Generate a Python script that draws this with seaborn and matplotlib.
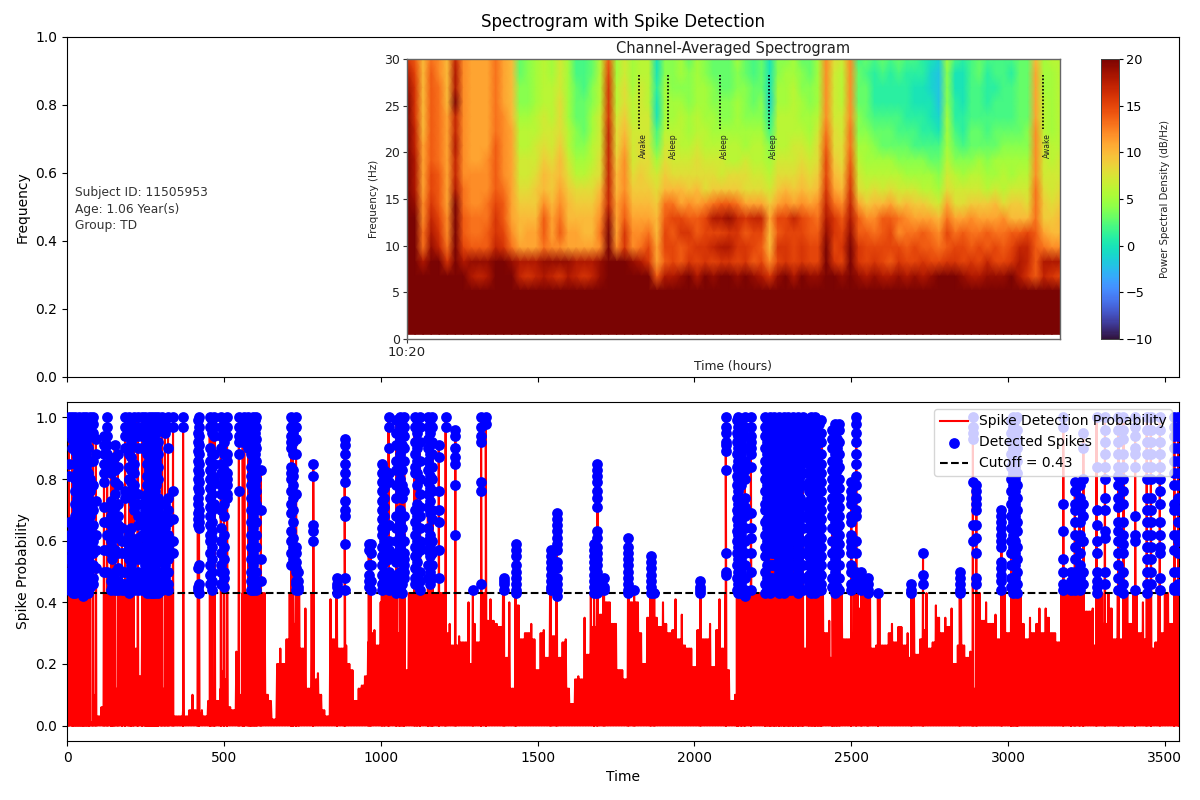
import matplotlib
matplotlib.use("Agg")
import matplotlib.pyplot as plt
import numpy as np
import pandas as pd
import seaborn as sns

# spectrogram, one list per time column, dB/Hz from 30 Hz downwards (rows below these are saturated)
SPEC_COLS = [
    [16,18,19,20,20,20,20,21,21,21,22,22,22,22,22,22],
    [14,15,16,16,16,17,17,18,18,18,19,20,20,21,22,22],
    [10,10,10,10,10,10,11,11,11,11,12,12,13,13,18,24],
    [13,14,14,14,14,14,14,14,15,15,16,17,18,19,20,23],
    [12,12,13,13,13,13,13,13,14,14,14,15,16,17,20,24],
    [10,10,10,10,11,11,11,11,11,11,11,12,12,13,16,24],
    [17,18,18,20,17,17,18,17,17,18,20,21,21,22,22,24],
    [12,12,12,12,12,12,12,12,12,13,13,14,14,15,18,22],
    [11,11,11,11,11,11,11,11,12,12,12,13,13,14,19,18],
    [11,11,11,11,11,11,11,11,12,12,12,13,13,14,19,17],
    [11,11,11,11,11,11,11,12,12,12,13,13,14,14,19,18],
    [13,13,13,13,13,13,14,14,14,14,15,16,16,17,20,23],
    [11,11,11,11,12,12,12,12,12,13,14,14,15,16,20,23],
    [10,10,10,10,10,11,11,11,11,11,11,11,12,13,19,20],
    [3,3,4,4,5,6,6,7,7,8,9,10,10,11,18,17],
    [4,4,4,4,5,6,6,7,7,8,9,10,11,11,18,16],
    [5,5,5,5,6,6,7,7,8,9,9,10,11,11,18,17],
    [6,6,6,6,7,7,8,9,10,10,12,14,14,13,19,18],
    [5,5,6,6,6,7,7,8,9,9,10,11,11,12,19,17],
    [7,7,7,8,8,8,9,10,10,11,12,13,14,12,19,16],
    [5,5,5,5,5,6,6,7,8,9,10,10,11,11,19,18],
    [2,2,3,3,3,4,4,5,6,8,9,10,11,11,18,17],
    [2,2,2,3,3,3,4,5,6,8,9,10,10,11,18,16],
    [3,3,4,4,5,5,6,6,7,8,9,10,10,11,18,17],
    [6,6,6,6,7,7,7,8,8,10,11,12,13,12,19,19],
    [14,15,16,16,16,17,17,17,17,17,17,19,20,20,21,22],
    [5,5,6,6,7,8,8,9,10,10,11,11,11,12,20,20],
    [7,7,8,8,9,10,11,12,12,12,13,14,16,16,20,20],
    [5,5,5,6,6,7,7,7,8,9,10,11,12,12,19,21],
    [6,6,7,7,7,7,8,8,9,9,10,11,12,13,18,22],
    [6,6,6,6,7,7,7,8,8,9,10,11,13,15,16,22],
    [0,0,1,0,0,2,3,5,7,8,9,10,10,11,11,14],
    [4,4,5,5,5,6,7,8,9,10,13,14,15,15,14,18],
    [4,4,4,5,5,6,7,7,8,10,13,15,14,15,15,18],
    [5,5,4,5,6,6,6,7,8,10,11,15,16,14,14,19],
    [3,4,4,4,5,5,6,7,8,9,12,14,16,15,16,20],
    [5,5,5,5,6,6,7,8,8,10,11,14,14,16,15,18],
    [4,4,5,5,5,6,6,7,8,8,12,15,15,16,16,20],
    [3,3,4,4,5,5,6,7,8,9,13,18,15,17,15,19],
    [3,3,3,4,4,5,6,7,7,9,14,18,15,18,16,20],
    [3,3,3,4,4,5,6,6,8,9,14,19,16,18,16,20],
    [5,4,4,5,5,5,6,6,8,9,13,17,16,16,15,19],
    [3,3,4,4,4,5,5,7,8,8,11,16,14,16,16,20],
    [2,2,3,3,4,5,6,6,7,8,11,17,15,15,14,19],
    [3,3,3,4,4,5,6,6,7,8,11,17,15,14,15,18],
    [0,0,0,-1,1,2,4,5,6,7,9,11,10,10,12,16],
    [4,4,5,5,6,6,6,7,8,9,11,15,14,16,15,19],
    [4,5,5,5,6,6,6,7,8,10,12,15,15,16,16,20],
    [5,5,6,6,6,6,7,7,8,9,11,17,15,15,15,18],
    [3,4,4,5,5,6,7,8,9,10,12,15,15,16,16,20],
    [3,3,4,4,5,5,6,7,8,9,11,14,14,15,15,19],
    [5,5,5,5,6,7,8,8,9,10,12,13,14,15,15,19],
    [12,12,12,12,12,13,14,15,15,16,17,18,19,20,20,22],
    [8,7,7,7,7,8,8,9,10,11,13,16,16,15,16,20],
    [7,6,6,6,7,7,8,8,9,10,12,14,15,16,15,19],
    [12,12,12,12,12,13,13,14,15,16,17,18,19,20,20,22],
    [2,3,3,3,4,4,5,6,7,8,11,14,14,16,16,19],
    [3,2,3,3,3,4,5,5,6,7,9,12,14,15,15,18],
    [2,1,1,1,2,3,4,5,6,8,10,12,13,15,16,19],
    [3,2,1,1,2,3,3,5,6,7,10,14,14,15,15,18],
    [2,1,1,1,2,3,3,5,6,8,11,14,15,15,14,18],
    [3,2,1,1,2,2,3,4,6,7,9,13,12,15,16,19],
    [2,1,1,1,1,2,3,4,5,7,10,12,13,14,15,18],
    [2,1,0,0,1,2,2,4,5,7,9,11,13,15,15,19],
    [1,1,0,0,1,1,2,4,5,6,9,11,14,14,16,18],
    [0,-1,-1,0,0,1,2,3,5,6,8,11,13,14,15,19],
    [-1,-2,-2,-2,-1,0,2,3,4,5,7,10,12,13,15,20],
    [5,4,4,4,5,5,5,6,7,8,11,13,15,14,16,20],
    [2,0,0,1,1,2,3,4,6,7,8,11,13,15,16,20],
    [1,0,0,0,1,1,2,4,5,7,8,11,14,15,15,19],
    [2,2,2,2,2,3,3,4,6,7,9,12,13,14,16,18],
    [3,3,2,2,2,3,3,5,6,7,9,11,13,15,15,18],
    [2,1,1,1,2,2,3,4,5,6,9,11,14,14,17,19],
    [2,2,1,2,2,3,3,5,5,7,10,11,13,15,15,19],
    [2,2,2,2,2,3,4,5,6,6,8,12,13,14,15,19],
    [2,1,2,2,2,3,4,5,5,7,9,10,14,15,16,20],
    [3,3,3,3,3,3,4,5,6,7,9,10,14,17,18,18],
    [3,3,3,3,3,4,4,5,6,7,8,10,15,17,17,16],
    [10,11,11,11,11,12,12,12,12,13,13,13,14,14,14,14],
    [5,5,5,6,6,6,7,7,7,8,9,9,11,13,18,17],
    [6,5,5,5,5,5,6,6,7,7,8,9,10,12,18,16],
    [6,6,6,6,6,6,6,7,7,8,9,10,10,12,18,15],
]
LOW_FREQ_DB = [24, 24, 24, 24]
FREQ_TICKS = [0, 5, 10, 15, 20, 25, 30]
CBAR_TICKS = [-10, -5, 0, 5, 10, 15, 20]
STATE_FRACTION = [0.355, 0.400, 0.479, 0.554, 0.974]
STATE_LABEL = ["Awake", "Asleep", "Asleep", "Asleep", "Awake"]
SUBJECT_TEXT = "Subject ID: 11505953\nAge: 1.06 Year(s)\nGroup: TD"

# sub-threshold peak height every 10 time steps, percent
ENVELOPE_PCT = [
    43,43,43,43,43,43,43,43,1,10,3,6,43,43,43,43,12,43,43,43,30,30,25,16,43,43,43,43,43,43,
    43,12,43,43,3,3,3,5,3,5,10,5,4,5,3,8,25,10,8,12,18,15,6,5,24,10,43,43,10,43,
    43,43,43,43,10,8,2,20,25,20,28,43,33,43,43,25,38,12,43,15,17,10,5,3,41,28,42,25,25,26,
    20,18,8,12,13,16,27,30,31,26,40,43,43,43,43,43,30,18,18,43,43,43,43,43,43,43,43,43,43,43,
    43,30,33,26,26,29,27,27,40,20,33,27,43,43,34,41,34,33,32,43,22,40,12,43,39,28,30,30,33,28,
    18,30,31,22,43,29,43,22,27,28,12,7,15,16,15,35,23,43,32,43,36,43,40,40,33,33,18,18,15,43,
    40,40,40,30,20,35,43,43,35,32,40,33,30,31,41,28,36,26,25,25,19,31,43,28,28,33,19,31,41,25,
    43,18,8,10,43,43,43,43,43,43,43,43,43,43,43,43,43,43,43,43,43,43,43,43,43,25,43,43,43,43,
    43,43,30,34,22,43,43,43,28,28,30,43,43,38,43,43,43,25,26,43,26,26,30,33,27,32,32,26,30,22,
    43,23,28,31,43,25,27,39,35,30,35,32,38,20,26,43,26,22,24,12,43,43,34,40,33,33,36,28,43,43,
    30,43,43,43,43,33,28,35,30,33,38,30,38,35,30,30,27,43,43,43,43,43,43,43,43,37,37,38,26,43,
    43,33,43,38,28,43,28,43,43,33,43,43,30,40,28,43,25,27,43,30,43,43,33,43,43,43,
]

# detected spikes, grouped by the time step they stack on
SPIKE_TIME = [
    6,16,26,38,50,62,72,82,92,118,128,140,152,162,175,185,198,212,225,240,
    250,260,270,280,290,302,322,338,370,420,455,470,490,510,548,565,578,592,604,618,
    715,730,738,785,860,885,962,968,1004,1025,1060,1075,1108,1125,1150,1165,1185,1207,1238,
    1294,1320,1335,1393,1430,1542,1561,1680,1691,1712,1789,1808,1861,1872,2019,
    2100,2140,2160,2180,2225,2240,2255,2270,2285,2300,2315,2330,2345,2372,2385,2398,
    2447,2462,2500,2516,2532,2553,2585,2692,2729,2846,2888,2899,2979,3016,3030,
    3176,3200,3213,3228,3240,3282,3309,3352,3368,3405,3442,3455,3484,3530,3543,
]
SPIKE_PCT = [
    [100,98,95,85,81,66,62,58,54,50,47,44],
    [100,97,93,90,66,62,60,56,52,48,45],
    [100,97,93,89,85,80,76,72,68,64,60,56,52,48,45,43],
    [100,97,93,90,86,83,79,76,72,69,65,62,58,55,51,48,44],
    [100,97,93,90,86,83,79,76,72,69,65,62,58,55,51,48,44,42],
    [100,97,92,88,84,80,76,72,68,64,60,56,52,48,45],
    [100,98,94,86,80,76,72,68,64,60,56,52,48,45],
    [100,98,95,86,78,70,65,60,56,52,48,46],
    [93,88,73,62,57,51],
    [94,91,88,85,82,79,71,66,57,50],
    [100,97,94,91,88,84,66,62,57,50],
    [86,84,82,73,68,65,62,60,56,47,44],
    [91,87,83,79,75,71,67,64,61,57,50,46,44],
    [88,84,78,72,68,65,62,56,51,47,44],
    [64,60,56,50,46,44],
    [100,97,94,90,76,74,60,56,50,46,44],
    [100,97,94,90,88,84,80,76,62,58,54,50,46,43],
    [100,97,94,85,82,78,75,72,70,60,57,54,50,46,44],
    [100,97,94,90,75,72,68,65,61,58,54,50,47,44],
    [100,97,94,90,62,58,56,54,46,44],
    [100,97,94,90,73,70,67,64,61,58,55,52,48,45],
    [100,97,94,90,86,83,80,76,73,70,67,64,61,58,55,52,48,45],
    [100,97,94,90,86,83,80,76,73,70,67,64,61,58,55,52,48,45,43],
    [100,97,92,88,84,80,76,73,70,67,64,61,58,55,52,48,45,43],
    [100,97,92,88,84,80,74,70,66,62,58,55,50,48,45,43],
    [100,97,68,66,63,60,57,53,50,46,44],
    [100,97,90,74,70,66,62,58,54,50,46,44],
    [100,97,76,67,60,56],
    [100,97],
    [100,97,94,91,88,85,82,79,76,70,68,66,64,52,46,43],
    [100,97,90,86,83,80,77,74,71,68,65,62,60,56,52,49,46],
    [100,97,94,88,85,80,72],
    [100,97,94,90,85,82,78,75,70,64,60,56,52,50,46],
    [100,97,94,88,86,82,80,78,75,74],
    [100,97,94,92,88,76],
    [100,97,94],
    [100,97,94,90],
    [100,97,93,90,86,83,80,76,72,68,64,60,56,52,48,46,44],
    [100,97,93,90,86,83,80,76,72,70,66,62,58,54,50,46,44],
    [83,70,54,47],
    [100,97,94,90,92,84,82,80,76,72,69,63,60,56,52],
    [100,97,93,88,75,58,56,53,51,50,47,46,44],
    [50,47,45,44],
    [85,81,65,63,60],
    [48,46,45,43],
    [93,91,88,85,82,79,73,70,68,59,48,44],
    [59,57,52,49,47,45],
    [59,56,52,47,44],
    [85,82,79,76,73,70,67,64,62,58,55,52,49,46,44],
    [100,97,90,82,79,65,60,57,54,50,47,44],
    [100,97,93,88,85,80,76,70,66,62,58,55,50,47,44],
    [100,97,94,90,86,76,68,60,56,54,52,50,48],
    [100,97,92,88,84,82,70,66,62,58,55,51,48,46],
    [100,97,92,86,80,75,71,68,64,60,58,57,50,47,44],
    [100,97,93,90,86,83,79,75,71,64,60,57,52,48],
    [100,97,92,88,84,80,76,70,67,60,56,52,48],
    [91,87,76,70,66,57,48],
    [100,97],
    [96,94,90,87,85,78,62],
    [44],
    [100,97,94,92,79,76,46],
    [100,98],
    [48,47,46,44],
    [59,57,55,52,50,48,46,44,43],
    [57,55,53,51,49,47,45,44],
    [69,67,65,63,61,59,57,53,51,48,46,44,42],
    [59,57,55,53,51,49,47,45,43],
    [85,83,81,79,76,74,71,63,61,58,56,54,52,50,48,46,44,43],
    [48,45,44],
    [61,58,56,54,52,50,48,46,44,43],
    [44],
    [55,53,51,49,47,45,43],
    [43],
    [47,45,44,43],
    [100,97,95,92,91,89,83,56,50,49],
    [100,97,94,90,86,83,80,76,72,69,65,62,58,54,50,46,43],
    [100,97,94,90,86,83,80,74,71,68,64,60,56,52,48,44,42],
    [100,97,94,92,90,88,84,69,64,61,56,50,44],
    [100,97,94,90,86,83,80,76,72,70,66,62,58,55,50,46,43],
    [100,97,94,90,86,83,80,76,73,69,66,62,58,52,48,43],
    [100,97,94,90,86,82,78,74,70,66,64,60,56,52,46,44],
    [100,97,94,90,86,83,80,76,73,69,66,62,58,54,50,46,43],
    [100,97,94,90,86,83,80,76,73,69,66,62,58,54,50,46,43],
    [100,97,94,90,86,83,80,76,73,70,66,62,58,54,50,46,44],
    [100,97,94,90,86,83,80,76,73,70,66,62,60,56,52,48,45],
    [100,97,94,90,86,83,80,76,73,70,66,62,58,54,50,46,43],
    [100,97,94,90,86,82,78,72,68,64,60,56,52,48,44],
    [100,97,94,90,87,84,81,78,75,72,69,66,63,60,57,54,51,48,45,43],
    [100,97,94,90,87,84,81,78,75,72,69,66,63,60,57,54,51,48,45,43],
    [98,95,92,88,85,82,79,76,73,70,66,62,58,54,50,46,44],
    [98,95,92,88,84,81,78,75,72,69,66,63,60,57,54,50,46,43],
    [98,96,92,88,84,80,77,74,71,68,65,62,59,56,52,48,44],
    [79,76,74,72,68,66,62,60,58,56,52,50,46,44],
    [100,98,95,92,88,85,81,78,74,70,68,60,56,50,48,45],
    [50,48,46,44],
    [48,46,44,43],
    [43],
    [46,44,43],
    [56,49,46],
    [50,48,46,44,43],
    [100,97,95,93,79,65,60],
    [78,76,74,72,70,65,61,56,48,46],
    [70,68,66,64,62,60,58,53,51,49,47,44],
    [100,97,94,90,86,82,78,74,70,66,62,60,58,56,52,48,44,43],
    [100,96,93,90,86,82,78,74,70,66,63,58,54,50,46,43],
    [100,97,72,63,54,50,46,44],
    [50,47,45,44],
    [79,76,72,70,66,62,58,54,50,47,44],
    [78,74,70,66,62,60,56,52,48,44],
    [95,90,80,72,68,60,50,46],
    [100,84,70,65,60,56,50,47,45,43],
    [100,96,92,88,84,80,74,70,63,61,50,46],
    [100,96,92,88,84,81,78,74,71,66,63,60,56,52,48,44],
    [100,96,93,88,84,80,76,72,66,62,59,56,50,46,43],
    [100,97,94,90,88,84,68,62,60,44],
    [100,96,92,88,84,80,74,70,66,62,58,54,50,46,43],
    [100,96,92,88,84,80,74,70,66,62,58,54,50,46],
    [100,96,92,88,84,80,76,72,66,62,58,56,48,44],
    [100,97,94,90,86,82,78,72,70,62,57,50,45,44],
    [100,97,94,90,86,82,78,74,70,66,62,60,56,50,46,44],
]
# second pass over the packed stretches, where the stacks sit too close to read singly
PACKED_TIME = [
    20,32,44,56,68,145,205,255,265,275,285,312,417,462,500,560,585,598,720,1012,1050,1068,1116,1158,
    2135,2150,2232,2247,2262,2277,2292,2307,2322,2337,2364,2378,2392,2405,2440,2454,3010,3023,
]
PACKED_PCT = [
    [99,95,64,58,54,50,46,43],
    [99,95,91,87,82,78,74,70,66,62,58,54,50,46],
    [99,95,91,88,84,81,77,74,70,67,63,60,56,53,49,46],
    [99,95,92,88,85,81,78,74,71,67,64,60,57,53,50,46,43],
    [99,96,90,82,78,74,70,66,62,58,54,50,46,43],
    [85,70,66,63,58,54,49,45],
    [99,95,92,87,83,79,74,64,60,56,52,48,44],
    [99,95,92,88,85,81,78,75,71,68,65,62,59,56,53,50,46,43],
    [99,95,92,88,85,81,78,75,71,68,65,62,59,56,53,50,46,43],
    [99,95,90,86,82,78,75,71,68,65,62,59,56,53,50,46,43],
    [99,95,90,86,82,78,72,68,64,60,56,53,49,46,44],
    [99,95,72,68,64,60,56,52,48,45],
    [99,95,92,89,86,83,80,77,74,72,69,67,65,51,45,44],
    [99,95,88,84,81,78,75,72,70,66,63,61,58,54,50,47,44],
    [99,95,92,88,83,80,76,72,68,62,58,54,50,48,45],
    [99,95,92],
    [99,95,91,88,84,81,78,74,70,66,62,58,54,50,47,44],
    [99,95,91,88,84,81,78,74,70,66,62,58,54,50,47,45],
    [99,95,92,88,83,81,78,74,70,66,61,58,54],
    [83,80,77,74,71,68,65,63,60,56,53,50,47,45],
    [99,95,91,86,83,78,74,68,64,60,56,53,49,46,43],
    [99,95,91,86,83,78,74,68,64,60,56,53,49,46,43],
    [99,95,90,86,82,78,72,68,64,60,56,53,49,46],
    [99,95,91,88,84,81,77,73,69,62,58,55,50,46],
    [99,95,92,88,84,81,78,74,70,67,63,60,56,52,48,44],
    [99,95,92,88,84,81,78,72,69,66,62,58,54,50,46,43],
    [99,95,92,88,84,81,78,74,71,67,64,60,56,52,48,44],
    [99,95,92,88,84,81,78,74,71,67,64,60,56,52,48,44],
    [99,95,92,88,84,81,78,74,71,67,64,60,56,52,48,44],
    [99,95,92,88,84,81,78,74,71,67,64,60,56,52,48,44],
    [99,95,92,88,84,81,78,74,71,67,64,60,56,52,48,44],
    [99,95,92,88,84,81,78,74,71,67,64,60,56,52,48,44],
    [99,95,92,88,84,81,78,74,71,67,64,60,56,52,48,44],
    [99,95,92,88,84,81,78,74,71,67,64,60,56,52,48,44],
    [99,95,92,88,85,82,79,76,73,70,67,64,61,58,55,52,49,46,44],
    [99,95,92,88,85,82,79,76,73,70,67,64,61,58,55,52,49,46,44],
    [99,95,92,88,85,82,79,76,73,70,67,64,61,58,55,52,49,46,44],
    [99,95,92,88,85,82,79,76,73,70,67,64,61,58,55,52,49,46,44],
    [96,93,90,86,83,80,77,74,71,68,64,60,56,52,48,45],
    [96,93,90,86,83,80,77,74,71,68,64,60,56,52,48,45],
    [99,95,92,88,84,80,76,72,68,64,60,56,52,48,45],
    [99,95,92,88,84,80,76,72,68,64,60,56,52,48,45],
]
CUTOFF = 0.43
ENVELOPE_STEP = 10

all_times = SPIKE_TIME + PACKED_TIME
all_pcts = SPIKE_PCT + PACKED_PCT

# red trace: a peak per envelope step, a lower one between steps to fill the body, spike tops on top
env_t = np.arange(len(ENVELOPE_PCT)) * ENVELOPE_STEP
between = np.minimum(ENVELOPE_PCT, ENVELOPE_PCT[1:] + ENVELOPE_PCT[-1:])
peak_t = np.concatenate([env_t, env_t + ENVELOPE_STEP / 2, all_times])
peak_v = np.concatenate([ENVELOPE_PCT, between, [max(p) for p in all_pcts]])
order = np.argsort(peak_t, kind="stable")
peak_t, peak_v = peak_t[order], peak_v[order]
mid_t = np.append((peak_t[:-1] + peak_t[1:]) / 2, peak_t[-1])
trace_t = np.ravel(np.column_stack([peak_t, mid_t]))
trace_v = np.ravel(np.column_stack([peak_v, np.zeros_like(peak_v)])) / 100
trace = pd.DataFrame({"time": trace_t, "prob": trace_v})

spikes = pd.DataFrame({"time": all_times, "pct": all_pcts}).explode("pct")
spikes["prob"] = spikes["pct"].astype(float) / 100
spikes["time"] = spikes["time"].astype(float)

spec = np.vstack([np.array(SPEC_COLS).T, np.tile(np.array(LOW_FREQ_DB)[None].T, (1, len(SPEC_COLS)))])
n_rows, n_cols = spec.shape
freq_step = 29.5 / (n_rows - 1)

fig = plt.figure(figsize=(12, 8), dpi=100)
ax_top = fig.add_axes([67 / 1200, 1 - 377 / 800, 1112 / 1200, 340 / 800])
ax_bot = fig.add_axes([67 / 1200, 1 - 741 / 800, 1112 / 1200, 339 / 800], sharex=ax_top)

# bottom panel
sns.lineplot(data=trace, x="time", y="prob", ax=ax_bot, color="red", lw=1.5, estimator=None,
             sort=False, label="Spike Detection Probability")
sns.scatterplot(data=spikes, x="time", y="prob", ax=ax_bot, color="blue", s=60, linewidth=0,
                zorder=3, label="Detected Spikes")
ax_bot.axhline(CUTOFF, color="black", ls="--", lw=1.5, label=f"Cutoff = {CUTOFF}")
ax_bot.set_xlim(0, 3545)
ax_bot.set_ylim(-0.05, 1.05)
ax_bot.set_xlabel("Time")
ax_bot.set_ylabel("Spike Probability")
ax_bot.legend(loc="upper right")

# top panel
ax_top.set_ylim(0, 1)
ax_top.set_ylabel("Frequency")
ax_top.set_xlabel("")
ax_top.tick_params(labelbottom=False)
ax_top.set_title("Spectrogram with Spike Detection", fontsize=12, pad=7)
ax_top.text(75 / 1200, 1 - 209 / 800, SUBJECT_TEXT, transform=fig.transFigure, fontsize=8.8,
            color="#333333", va="center", ha="left", linespacing=1.38)

# inset spectrogram
ax_spec = fig.add_axes([407 / 1200, 1 - 339 / 800, 653 / 1200, 280 / 800])
ax_cbar = fig.add_axes([1101 / 1200, 1 - 339 / 800, 18 / 1200, 280 / 800])
sns.heatmap(spec, ax=ax_spec, cbar_ax=ax_cbar, cmap="turbo", vmin=-10, vmax=20, shading="gouraud",
            xticklabels=False, yticklabels=False)
ax_spec.set_xlim(0, n_cols - 1)
ax_spec.set_ylim(n_rows - 1 + 0.5 / freq_step, 0)
for side in ax_spec.spines.values():
    side.set_visible(True)
    side.set_color("#666666")
    side.set_linewidth(1.0)
ax_spec.set_yticks([(30 - f) / freq_step for f in FREQ_TICKS], [str(f) for f in FREQ_TICKS], fontsize=9, rotation=0)
ax_spec.set_xticks([0], ["10:20"], fontsize=9.5, rotation=0)
ax_spec.tick_params(length=3, width=0.8, color="#333333", labelcolor="#222222", pad=2)
ax_spec.set_title("Channel-Averaged Spectrogram", fontsize=10.5, color="#222222", pad=4)
ax_spec.set_ylabel("Frequency (Hz)", fontsize=7.5, labelpad=4, color="#222222")
ax_spec.set_xlabel("Time (hours)", fontsize=8.8, labelpad=1, color="#222222")

for frac, label in zip(STATE_FRACTION, STATE_LABEL):
    x = frac * (n_cols - 1)
    ax_spec.plot([x, x], [(30 - 28.3) / freq_step, (30 - 22.5) / freq_step], color="black",
                 ls=(0, (1, 1.1)), lw=1.2)
    ax_spec.text(x + 0.6, (30 - 20.7) / freq_step, label, rotation=90, fontsize=5.5, color="#222222",
                 ha="center", va="center")

ax_cbar.set_yticks(CBAR_TICKS)
ax_cbar.tick_params(labelsize=9.3, length=3, width=0.8, pad=2)
ax_cbar.set_ylabel("Power Spectral Density (dB/Hz)", fontsize=7.3, labelpad=5, color="#222222")
for side in ax_cbar.spines.values():
    side.set_visible(True)
    side.set_linewidth(0.6)
    side.set_color("#444444")

fig.savefig("out.png", dpi=100)
